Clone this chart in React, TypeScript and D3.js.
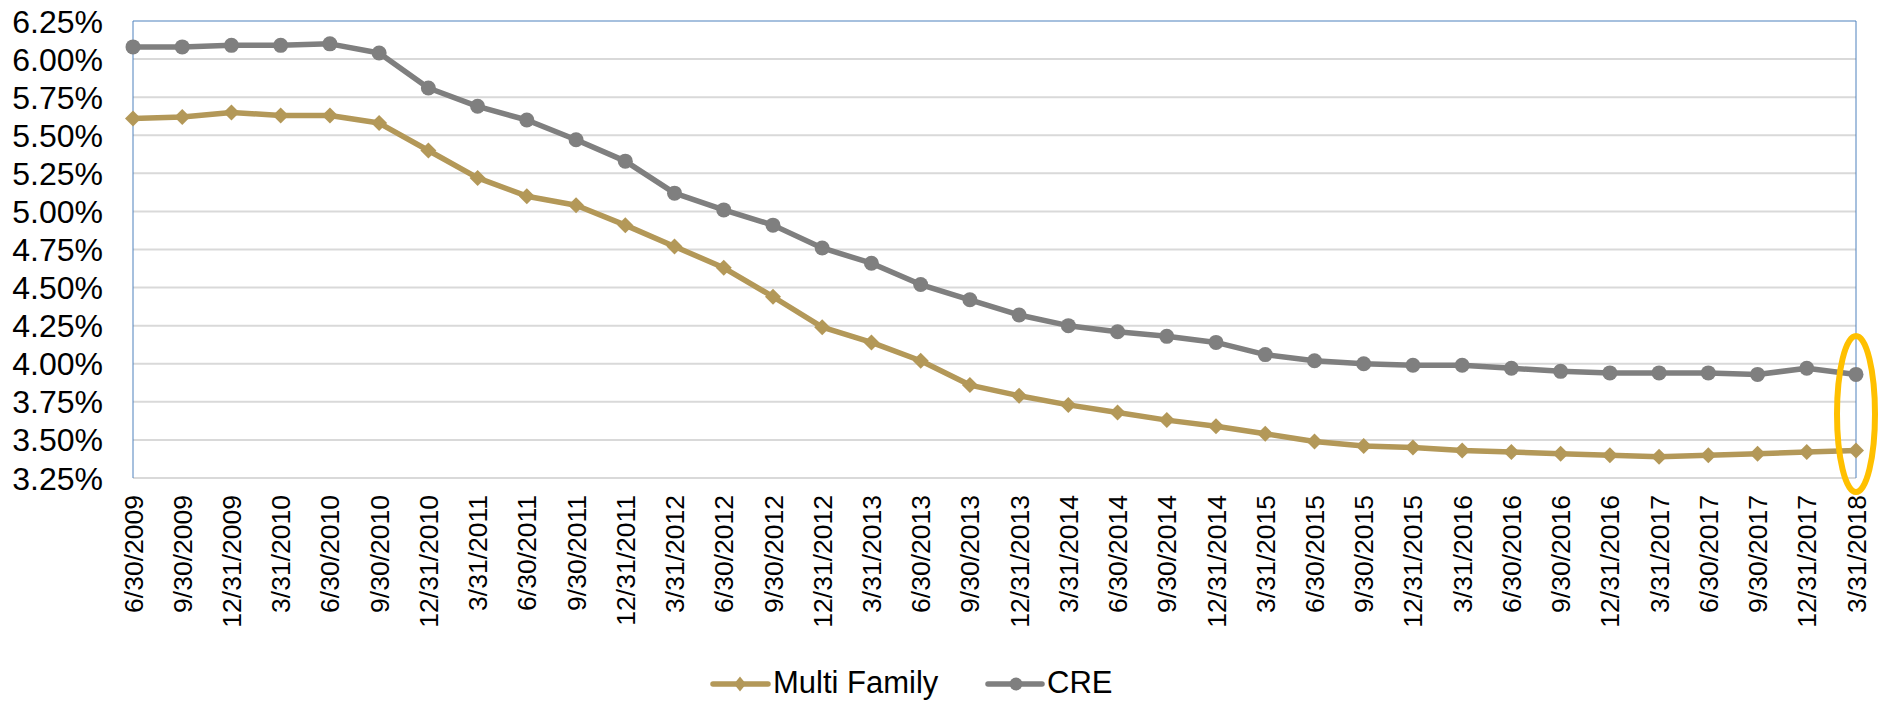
import React, { useEffect, useRef } from 'react';
import * as d3 from 'd3';

const categories = [
  '6/30/2009', '9/30/2009', '12/31/2009',
  '3/31/2010', '6/30/2010', '9/30/2010', '12/31/2010',
  '3/31/2011', '6/30/2011', '9/30/2011', '12/31/2011',
  '3/31/2012', '6/30/2012', '9/30/2012', '12/31/2012',
  '3/31/2013', '6/30/2013', '9/30/2013', '12/31/2013',
  '3/31/2014', '6/30/2014', '9/30/2014', '12/31/2014',
  '3/31/2015', '6/30/2015', '9/30/2015', '12/31/2015',
  '3/31/2016', '6/30/2016', '9/30/2016', '12/31/2016',
  '3/31/2017', '6/30/2017', '9/30/2017', '12/31/2017',
  '3/31/2018',
];

const multiFamily = [
  5.61, 5.62, 5.65, 5.63, 5.63, 5.58, 5.40, 5.22, 5.10, 5.04, 4.91,
  4.77, 4.63, 4.44, 4.24, 4.14, 4.02, 3.86, 3.79, 3.73, 3.68, 3.63, 3.59,
  3.54, 3.49, 3.46, 3.45, 3.43, 3.42, 3.41, 3.40, 3.39, 3.40, 3.41, 3.42, 3.43,
];

const cre = [
  6.08, 6.08, 6.09, 6.09, 6.10, 6.04, 5.81, 5.69, 5.60, 5.47, 5.33,
  5.12, 5.01, 4.91, 4.76, 4.66, 4.52, 4.42, 4.32, 4.25, 4.21, 4.18, 4.14,
  4.06, 4.02, 4.00, 3.99, 3.99, 3.97, 3.95, 3.94, 3.94, 3.94, 3.93, 3.97, 3.93,
];

const yTicks = [3.25, 3.5, 3.75, 4.0, 4.25, 4.5, 4.75, 5.0, 5.25, 5.5, 5.75, 6.0, 6.25];

const seriesNames = ['Multi Family', 'CRE'];
const highlightValue = 3.67;

const FONT = '"Liberation Sans", Arial, sans-serif';
const GOLD = '#B39858';
const GRAY = '#7F7F7F';

export default function App() {
  const ref = useRef<SVGSVGElement>(null);

  useEffect(() => {
    document.body.style.margin = '0';
    const svg = d3.select(ref.current);
    svg.selectAll('*').remove();

    const left = 133, right = 1856, top = 21, bottom = 478;

    const x = d3.scalePoint<string>().domain(categories).range([left, right]).padding(0);
    const y = d3.scaleLinear().domain([3.25, 6.25]).range([bottom, top]);

    // gridlines
    svg.append('g')
      .selectAll('line')
      .data(yTicks.filter((t) => t > 3.25 && t < 6.25))
      .join('line')
      .attr('x1', left).attr('x2', right)
      .attr('y1', (d) => y(d)).attr('y2', (d) => y(d))
      .attr('stroke', '#D9D9D9').attr('stroke-width', 2);

    // plot borders
    svg.append('line').attr('x1', left).attr('x2', right).attr('y1', y(3.25)).attr('y2', y(3.25))
      .attr('stroke', '#D9D9D9').attr('stroke-width', 2);
    svg.append('line').attr('x1', left).attr('x2', right).attr('y1', y(6.25)).attr('y2', y(6.25))
      .attr('stroke', '#4F81BD').attr('stroke-width', 1.2);
    svg.append('line').attr('x1', left).attr('x2', left).attr('y1', y(6.25)).attr('y2', y(3.25))
      .attr('stroke', '#4F81BD').attr('stroke-width', 1);
    svg.append('line').attr('x1', right).attr('x2', right).attr('y1', y(6.25)).attr('y2', y(3.25))
      .attr('stroke', '#4F81BD').attr('stroke-width', 1);

    // y labels
    svg.append('g')
      .selectAll('text')
      .data(yTicks)
      .join('text')
      .attr('x', 103)
      .attr('y', (d) => y(d))
      .attr('dy', '0.36em')
      .attr('text-anchor', 'end')
      .attr('font-family', FONT)
      .attr('font-size', 32)
      .attr('fill', '#000')
      .text((d) => d.toFixed(2) + '%');

    // x labels
    svg.append('g')
      .selectAll('text')
      .data(categories)
      .join('text')
      .attr('transform', (d) => `translate(${x(d)},495) rotate(-90)`)
      .attr('dy', '0.36em')
      .attr('text-anchor', 'end')
      .attr('font-family', FONT)
      .attr('font-size', 26.5)
      .attr('fill', '#000')
      .text((d) => d);

    const line = d3.line<number>()
      .x((_, i) => x(categories[i]) as number)
      .y((d) => y(d));

    const diamond = (cx: number, cy: number, w: number, h: number) =>
      `M${cx},${cy - h}L${cx + w},${cy}L${cx},${cy + h}L${cx - w},${cy}Z`;

    // Multi Family
    svg.append('path').datum(multiFamily).attr('d', line)
      .attr('fill', 'none').attr('stroke', GOLD).attr('stroke-width', 5.5)
      .attr('stroke-linejoin', 'round');
    svg.append('g').selectAll('path').data(multiFamily).join('path')
      .attr('d', (d, i) => diamond(x(categories[i]) as number, y(d), 8, 8))
      .attr('fill', GOLD);

    // CRE
    svg.append('path').datum(cre).attr('d', line)
      .attr('fill', 'none').attr('stroke', GRAY).attr('stroke-width', 5.5)
      .attr('stroke-linejoin', 'round');
    svg.append('g').selectAll('circle').data(cre).join('circle')
      .attr('cx', (_, i) => x(categories[i]) as number)
      .attr('cy', (d) => y(d))
      .attr('r', 7.5)
      .attr('fill', GRAY);

    // highlight ellipse
    svg.append('ellipse')
      .attr('cx', x(categories[categories.length - 1]) as number)
      .attr('cy', y(highlightValue))
      .attr('rx', 19).attr('ry', 78)
      .attr('fill', 'none').attr('stroke', '#FFC000').attr('stroke-width', 6);

    // legend
    const lg = svg.append('g');
    const ly = 684;
    lg.append('line').attr('x1', 713).attr('x2', 768).attr('y1', ly).attr('y2', ly)
      .attr('stroke', GOLD).attr('stroke-width', 5.5).attr('stroke-linecap', 'round');
    lg.append('path').attr('d', diamond(740, ly, 6, 7.5)).attr('fill', GOLD);
    lg.append('text').attr('x', 773).attr('y', 693).attr('font-family', FONT).attr('font-size', 31)
      .attr('fill', '#000').text(seriesNames[0]);

    lg.append('line').attr('x1', 988).attr('x2', 1042).attr('y1', ly).attr('y2', ly)
      .attr('stroke', GRAY).attr('stroke-width', 5.5).attr('stroke-linecap', 'round');
    lg.append('circle').attr('cx', 1016).attr('cy', ly).attr('r', 6.5).attr('fill', GRAY);
    lg.append('text').attr('x', 1047).attr('y', 693).attr('font-family', FONT).attr('font-size', 31)
      .attr('fill', '#000').text(seriesNames[1]);
  }, []);

  return <svg ref={ref} width={1879} height={701} style={{ display: 'block', background: '#fff' }} />;
}
